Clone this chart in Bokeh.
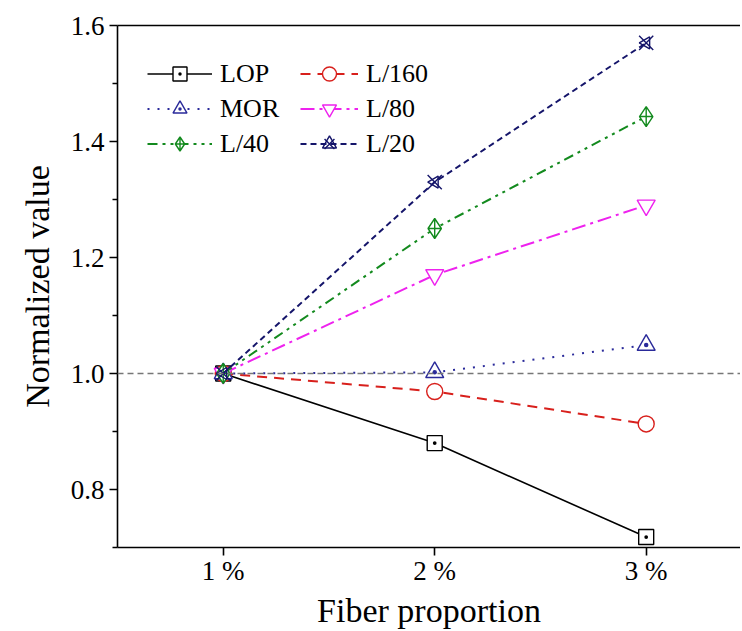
import math
from bokeh.plotting import figure
from bokeh.models import (Span, Legend, LegendItem, FixedTicker, LinearAxis,
                          Range1d, PrintfTickFormatter)
from bokeh.embed import file_html
from bokeh.resources import INLINE

# ---- data ----
fiber = [1, 2, 3]
tick_labels = {1: "1 %", 2: "2 %", 3: "3 %"}
y_ticks = [0.8, 1.0, 1.2, 1.4, 1.6]
y_minor = [0.7, 0.9, 1.1, 1.3, 1.5]
lop = [1.0, 0.880, 0.718]
l160 = [1.0, 0.969, 0.913]
mor = [1.0, 1.002, 1.049]
l80 = [1.0, 1.170, 1.290]
l40 = [1.0, 1.250, 1.443]
l20 = [1.0, 1.330, 1.570]

FONT = "Times New Roman"

p = figure(width=740, height=631, output_backend="svg", toolbar_location=None,
           x_range=Range1d(0.5, 3.446), y_range=Range1d(0.7, 1.6),
           min_border_left=117, min_border_right=0, min_border_top=25,
           min_border_bottom=20)
p.outline_line_color = None
p.grid.visible = False
p.background_fill_color = "white"

xa = p.xaxis[0]
xa.ticker = FixedTicker(ticks=fiber)
xa.major_label_overrides = tick_labels
xa.axis_label = "Fiber proportion"
ya = p.yaxis[0]
ya.ticker = FixedTicker(ticks=y_ticks, minor_ticks=y_minor)
ya.formatter = PrintfTickFormatter(format="%.1f")
ya.axis_label = "Normalized value"
for ax in (xa, ya):
    ax.axis_line_width = 1.6
    ax.axis_line_color = "black"
    ax.major_tick_line_width = 1.6
    ax.minor_tick_line_width = 1.6
    ax.major_tick_out = 8
    ax.major_tick_in = 0
    ax.minor_tick_out = 5
    ax.minor_tick_in = 0
    ax.major_label_text_font = FONT
    ax.major_label_text_font_style = "normal"
    ax.major_label_text_font_size = "27px"
    ax.major_label_text_color = "black"
    ax.axis_label_text_font = FONT
    ax.axis_label_text_font_size = "34px"
    ax.axis_label_text_font_style = "normal"
    ax.axis_label_text_color = "black"
ya.major_label_standoff = 5
ya.axis_label_standoff = 12
xa.major_label_standoff = 0
xa.axis_label_standoff = 3

top = LinearAxis(ticker=FixedTicker(ticks=[]), axis_line_width=1.6,
                 major_label_text_font_size="0px", minor_tick_line_color=None,
                 major_tick_line_color=None)
p.add_layout(top, "above")

p.add_layout(Span(location=1.0, dimension="width", line_color="#777777",
                  line_dash="6 4", line_width=1.3))

series = [
    ("LOP", lop, "black", "solid", "square_dot", 15, 1.6),
    ("L/160", l160, "#d8201c", "10 7", "circle", 16, 2.0),
    ("MOR", mor, "#2a2a9a", "2 8", "triangle_dot", 18, 2.0),
    ("L/80", l80, "#ee22ee", "14 5 3 5", "inverted_triangle", 18, 2.0),
    ("L/40", l40, "#138a1e", "10 5 3 5 3 5", "diamond_cross", 20, 2.0),
    ("L/20", l20, "#15156a", "6 4", "x", 20, 2.0),
]

items = {}
for name, ys, color, dash, marker, size, lw in series:
    ln = p.line(fiber, ys, line_color=color, line_dash=dash, line_width=lw)
    fill = None if name == "L/20" else "white"
    sc = p.scatter(fiber, ys, marker=marker, size=size, line_color=color,
                   fill_color=fill, line_width=1.4)
    rs = [ln, sc]
    if name == "L/20":
        tri = p.scatter(fiber, ys, marker="triangle", size=12, angle=math.pi / 2,
                        line_color=color, fill_color=None, line_width=1.4)
        rs.append(tri)
    items[name] = rs

def make_legend(names, x, gw):
    lg = Legend(items=[LegendItem(label=n, renderers=items[n]) for n in names],
                location=(x, 386), orientation="vertical",
                glyph_width=gw, glyph_height=35, label_height=35, spacing=0,
                label_standoff=8, padding=0, margin=0,
                border_line_color=None, background_fill_alpha=0,
                label_text_font=FONT, label_text_font_style="normal",
                label_text_font_size="26px", label_text_color="black")
    p.add_layout(lg, "center")
    return lg

make_legend(["LOP", "MOR", "L/40"], 30, 65)
make_legend(["L/160", "L/80", "L/20"], 183, 58)

open("out.html", "w").write(file_html(p, INLINE))
